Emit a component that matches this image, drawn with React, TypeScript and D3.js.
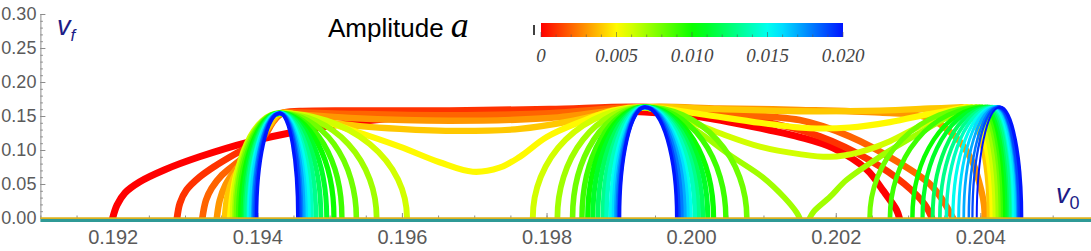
import React, { useEffect, useRef } from 'react';
import * as d3 from 'd3';

type Pt = [number, number];

// amplitude of every curve (colour key)
const amplitudes = [0, 0.001, 0.002, 0.003, 0.004, 0.005, 0.006, 0.007, 0.008, 0.009, 0.010,
    0.011, 0.012, 0.013, 0.014, 0.015, 0.016, 0.017, 0.018, 0.019, 0.020];

// tops of the arches (v0, vf)
const peak1: Pt = [0.19431, 0.154];
const peak2: Pt = [0.19936, 0.163];
const peak3Height = 0.163;

// feet of the arch sides (v0 where vf drops to 0), one entry per amplitude, null = no such side
const arch1Left = [null, null, null, null, null, null, 0.19366, 0.19369, 0.19371, 0.19374, 0.19377,
    0.19380, 0.19383, 0.19385, 0.19388, 0.19389, 0.19391, 0.19394, 0.19395, 0.19397, 0.19399];
const arch1Right = [null, null, null, null, null, null, 0.19607, 0.19565, 0.19537, 0.19517, 0.19506,
    0.19496, 0.19488, 0.19481, 0.19475, 0.19471, 0.19467, 0.19464, 0.19461, 0.19459, 0.19456];
const arch2Left = [null, null, null, null, null, null, 0.19781, 0.19815, 0.19836, 0.19849, 0.19857,
    0.19864, 0.19871, 0.19878, 0.19883, 0.19889, 0.19893, 0.19896, 0.19898, 0.19900, 0.19901];
const arch2Right = [null, null, null, null, null, null, null, null, 0.20077, 0.20048, 0.20031,
    0.20023, 0.20016, 0.20010, 0.20005, 0.19999, 0.19995, 0.19991, 0.19987, 0.19983, 0.19980];
const arch3Left = [null, null, null, null, null, null, null, null, 0.20247, 0.20275, 0.20306,
    0.20320, 0.20334, 0.20344, 0.20353, 0.20362, 0.20370, 0.20377, 0.20384, 0.20389, 0.20395];
const arch3Top = [null, null, null, null, 0.20374, 0.20381, 0.20388, 0.20394, 0.20399, 0.20403, 0.20407,
    0.20410, 0.20413, 0.20416, 0.20418, 0.20420, 0.20421, 0.20423, 0.20424, 0.20425, 0.20427];
const arch3Right = [null, null, null, null, 0.20413, 0.20417, 0.20421, 0.20425, 0.20429, 0.20432, 0.20435,
    0.20438, 0.20441, 0.20443, 0.20446, 0.20447, 0.20450, 0.20452, 0.20453, 0.20454, 0.20457];

// branches traced point by point (k = index into amplitudes)
const tracedBranches: { k: number; pts: Pt[] }[] = [
    { k: 0, pts: [[0.19200, 0], [0.19206, 0.019], [0.19217, 0.037], [0.19237, 0.053], [0.19272, 0.071], [0.19320, 0.090],
        [0.19389, 0.112], [0.19459, 0.128], [0.19528, 0.140], [0.19666, 0.153], [0.19804, 0.158], [0.19936, 0.156],
        [0.20012, 0.149], [0.20053, 0.141], [0.20109, 0.129], [0.20150, 0.119], [0.20196, 0.103], [0.20243, 0.071],
        [0.20265, 0.041], [0.20284, 0.012], [0.20288, 0]] },
    { k: 1, pts: [[0.19289, 0], [0.19293, 0.022], [0.19302, 0.041], [0.19320, 0.060], [0.19341, 0.076], [0.19369, 0.094],
        [0.19396, 0.110], [0.19406, 0.120], [0.19420, 0.142], [0.19434, 0.154], [0.19459, 0.157], [0.19528, 0.158],
        [0.19666, 0.158], [0.19804, 0.160], [0.19936, 0.163], [0.20012, 0.155], [0.20095, 0.143], [0.20178, 0.120],
        [0.20247, 0.085], [0.20295, 0.050], [0.20323, 0.020], [0.20333, 0]] },
    { k: 2, pts: [[0.19324, 0], [0.19329, 0.026], [0.19337, 0.044], [0.19351, 0.063], [0.19376, 0.085], [0.19401, 0.110],
        [0.19412, 0.124], [0.19423, 0.143], [0.19435, 0.154], [0.19459, 0.155], [0.19528, 0.153], [0.19666, 0.151],
        [0.19804, 0.154], [0.19936, 0.163], [0.20039, 0.153], [0.20150, 0.144], [0.20219, 0.120], [0.20288, 0.081],
        [0.20330, 0.050], [0.20348, 0.026], [0.20362, 0]] },
    { k: 3, pts: [[0.19344, 0], [0.19348, 0.026], [0.19356, 0.049], [0.19370, 0.071], [0.19389, 0.093], [0.19406, 0.118],
        [0.19419, 0.138], [0.19432, 0.154], [0.19459, 0.152], [0.19528, 0.147], [0.19666, 0.143], [0.19804, 0.147],
        [0.19936, 0.163], [0.20039, 0.161], [0.20150, 0.159], [0.20261, 0.155], [0.20326, 0.148], [0.20365, 0.120],
        [0.20388, 0.085], [0.20399, 0.050], [0.20405, 0.020], [0.20406, 0]] },
    { k: 4, pts: [[0.19355, 0], [0.19359, 0.034], [0.19367, 0.059], [0.19381, 0.082], [0.19398, 0.107], [0.19414, 0.132],
        [0.19431, 0.154], [0.19452, 0.152], [0.19504, 0.140], [0.19597, 0.131], [0.19680, 0.128], [0.19763, 0.131],
        [0.19832, 0.142], [0.19887, 0.155], [0.19936, 0.163], [0.20039, 0.160], [0.20150, 0.157], [0.20261, 0.158],
        [0.20330, 0.161], [0.20374, 0.163]] },
    { k: 5, pts: [[0.19362, 0], [0.19365, 0.030], [0.19370, 0.060], [0.19380, 0.090], [0.19394, 0.118], [0.19412, 0.142],
        [0.19431, 0.154], [0.19472, 0.148], [0.19528, 0.130], [0.19597, 0.105], [0.19652, 0.082], [0.19698, 0.068],
        [0.19735, 0.074], [0.19763, 0.090], [0.19800, 0.119], [0.19846, 0.141], [0.19892, 0.158], [0.19936, 0.163],
        [0.20012, 0.153], [0.20095, 0.140], [0.20164, 0.132], [0.20219, 0.133], [0.20275, 0.141], [0.20330, 0.153],
        [0.20381, 0.163]] },
    { k: 6, pts: [[0.19936, 0.163], [0.19984, 0.148], [0.20039, 0.125], [0.20095, 0.105], [0.20150, 0.094], [0.20192, 0.090],
        [0.20233, 0.097], [0.20275, 0.113], [0.20316, 0.135], [0.20358, 0.155], [0.20388, 0.163]] },
    { k: 7, pts: [[0.19936, 0.163], [0.19970, 0.152], [0.20008, 0.128], [0.20053, 0.093], [0.20099, 0.060], [0.20129, 0.030],
        [0.20146, 0.008], [0.20150, 0]] },
    { k: 7, pts: [[0.20164, 0], [0.20170, 0.010], [0.20192, 0.031], [0.20215, 0.056], [0.20261, 0.090], [0.20316, 0.125],
        [0.20358, 0.150], [0.20394, 0.163]] },
];

const xTicks = [0.192, 0.194, 0.196, 0.198, 0.200, 0.202, 0.204];
const yTicks = [0, 0.05, 0.10, 0.15, 0.20, 0.25, 0.30];
const legendTicks = [0, 0.005, 0.010, 0.015, 0.020];
const legendLabels = ['0', '0.005', '0.010', '0.015', '0.020'];

export default function App() {
    const svgRef = useRef<SVGSVGElement>(null);

    useEffect(() => {
        if (!svgRef.current) return;
        const svg = d3.select(svgRef.current);
        svg.selectAll('*').remove();

        const x = d3.scaleLinear().domain([0.191, 0.20553]).range([40.4, 1091]);
        const y = d3.scaleLinear().domain([0, 0.3]).range([218, 14]);
        const hue = d3.scaleLinear().domain([0, 0.02]).range([0, 235]);
        const color = (a: number) => d3.hsl(hue(a), 1, 0.5).formatHex();
        const strokeW = d3.scaleLinear().domain([0, 0.02]).range([7, 3.5]);
        // the left legs of the last arch are drawn finer in the reference
        const legW = d3.scaleLinear().domain([0.008, 0.02]).range([5, 2]);

        const axisColor = '#8c8c8c';
        const labelColor = '#5a5a5a';

        // Axes
        const gx = svg.append('g').attr('transform', `translate(0,${y(0)})`)
            .call(d3.axisBottom(x).tickValues(xTicks).tickSize(-5).tickSizeOuter(0).tickPadding(12)
                .tickFormat(d3.format('.3f')));
        svg.append('g').attr('transform', `translate(0,${y(0)})`)
            .call(d3.axisBottom(x).tickValues(d3.range(0.1910, 0.2055, 0.0005)).tickSize(-2.5).tickSizeOuter(0)
                .tickFormat(() => ''))
            .call(g => g.select('.domain').remove());
        const gy = svg.append('g').attr('transform', `translate(${x(0.191)},0)`)
            .call(d3.axisLeft(y).tickValues(yTicks).tickSize(-5).tickSizeOuter(0).tickPadding(4)
                .tickFormat(d3.format('.2f')));
        svg.append('g').attr('transform', `translate(${x(0.191)},0)`)
            .call(d3.axisLeft(y).tickValues(d3.range(0, 0.301, 0.01)).tickSize(-2.5).tickSizeOuter(0)
                .tickFormat(() => ''))
            .call(g => g.select('.domain').remove());
        svg.selectAll('.tick line, .domain').attr('stroke', axisColor);
        gx.selectAll('text')
            .attr('fill', labelColor)
            .style('font-family', '"Liberation Sans", Arial, sans-serif')
            .style('font-size', '20px');
        gy.selectAll('text')
            .attr('fill', labelColor)
            .style('font-family', '"Liberation Sans", Arial, sans-serif')
            .style('font-size', '18px');

        // Curves
        const defs = svg.append('defs');
        defs.append('clipPath').attr('id', 'plot-clip').append('rect')
            .attr('x', x(0.191)).attr('y', 0)
            .attr('width', x(0.20553) - x(0.191)).attr('height', y(0) + 1);

        const line = d3.line<Pt>().x(d => x(d[0])).y(d => y(d[1])).curve(d3.curveCatmullRom.alpha(0.5));
        const rise = (foot: number, top: Pt) =>
            `M${x(foot)},${y(0)}A${x(top[0]) - x(foot)},${y(0) - y(top[1])} 0 0 1 ${x(top[0])},${y(top[1])}`;
        const fall = (top: Pt, foot: number) =>
            `M${x(top[0])},${y(top[1])}A${x(foot) - x(top[0])},${y(0) - y(top[1])} 0 0 1 ${x(foot)},${y(0)}`;

        const gc = svg.append('g').attr('clip-path', 'url(#plot-clip)')
            .attr('fill', 'none').attr('stroke-linecap', 'round').attr('stroke-linejoin', 'round');

        amplitudes.forEach((a, k) => {
            const paths: { d: string; w: number }[] = [];
            const w = strokeW(a);
            tracedBranches.filter(b => b.k === k).forEach(b => paths.push({ d: line(b.pts)!, w }));
            const l1 = arch1Left[k], r1 = arch1Right[k];
            if (l1 != null) paths.push({ d: rise(l1, peak1), w });
            if (r1 != null) paths.push({ d: fall(peak1, r1), w });
            const l2 = arch2Left[k], r2 = arch2Right[k];
            if (l2 != null) paths.push({ d: rise(l2, peak2), w });
            if (r2 != null) paths.push({ d: fall(peak2, r2), w });
            const t3 = arch3Top[k];
            if (t3 != null) {
                const top: Pt = [t3, peak3Height];
                const l3 = arch3Left[k], r3 = arch3Right[k];
                if (l3 != null) paths.push({ d: rise(l3, top), w: legW(a) });
                if (r3 != null) paths.push({ d: fall(top, r3), w });
            }
            gc.selectAll(null).data(paths).join('path')
                .attr('d', d => d.d)
                .attr('stroke', color(a))
                .attr('stroke-width', d => d.w);
        });

        // zero-velocity band along the axis
        svg.append('line').attr('x1', x(0.191)).attr('x2', x(0.20553))
            .attr('y1', y(0) + 2.4).attr('y2', y(0) + 2.4)
            .attr('stroke', '#2f9a96').attr('stroke-width', 3.2);
        svg.append('line').attr('x1', x(0.191)).attr('x2', x(0.20553))
            .attr('y1', y(0) + 0.2).attr('y2', y(0) + 0.2)
            .attr('stroke', '#dcb21e').attr('stroke-width', 1.8);

        // Axis labels
        const vf = svg.append('text').attr('x', 57).attr('y', 35)
            .attr('fill', '#1c1c86').style('font-family', '"Liberation Sans", Arial, sans-serif')
            .style('font-style', 'italic').style('font-size', '27px');
        vf.append('tspan').text('v');
        vf.append('tspan').attr('dy', 6).style('font-size', '17px').text('f');

        const v0 = svg.append('text').attr('x', 1056).attr('y', 203)
            .attr('fill', '#1c1c86').style('font-family', '"Liberation Sans", Arial, sans-serif')
            .style('font-size', '27px');
        v0.append('tspan').style('font-style', 'italic').text('v');
        v0.append('tspan').attr('dy', 6).style('font-size', '18px').text('0');

        // Legend
        const title = svg.append('text').attr('x', 328).attr('y', 37).attr('fill', '#000');
        title.append('tspan').style('font-family', '"Liberation Sans", Arial, sans-serif')
            .style('font-size', '26px').text('Amplitude ');
        title.append('tspan').style('font-family', '"Liberation Serif", "Times New Roman", serif')
            .style('font-style', 'italic').style('font-size', '36px').text('a');

        const cb = d3.scaleLinear().domain([0, 0.02]).range([541, 843]);
        const grad = defs.append('linearGradient').attr('id', 'amp-grad');
        grad.selectAll('stop').data(amplitudes).join('stop')
            .attr('offset', d => `${(d / 0.02) * 100}%`)
            .attr('stop-color', d => color(d));
        svg.append('rect').attr('x', cb(0)).attr('y', 23).attr('width', cb(0.02) - cb(0)).attr('height', 14)
            .attr('fill', 'url(#amp-grad)');
        svg.append('g').selectAll('line').data(amplitudes).join('line')
            .attr('x1', d => cb(d)).attr('x2', d => cb(d))
            .attr('y1', 37).attr('y2', d => (legendTicks.includes(d) ? 32 : 34.5))
            .attr('stroke', '#555').attr('stroke-opacity', 0.7).attr('stroke-width', 0.8);
        svg.append('line').attr('x1', 534).attr('x2', 534).attr('y1', 25).attr('y2', 35)
            .attr('stroke', '#000').attr('stroke-width', 1.5);
        svg.append('g').selectAll('text').data(legendTicks).join('text')
            .attr('x', d => cb(d)).attr('y', 62).attr('text-anchor', 'middle')
            .attr('fill', '#444')
            .style('font-family', '"Liberation Serif", "Times New Roman", serif')
            .style('font-style', 'italic').style('font-size', '19px')
            .text((d, i) => legendLabels[i]);
    }, []);

    return (
        <svg ref={svgRef} width={1091} height={251}
            style={{ position: 'absolute', left: 0, top: 0, background: '#fff' }} />
    );
}
